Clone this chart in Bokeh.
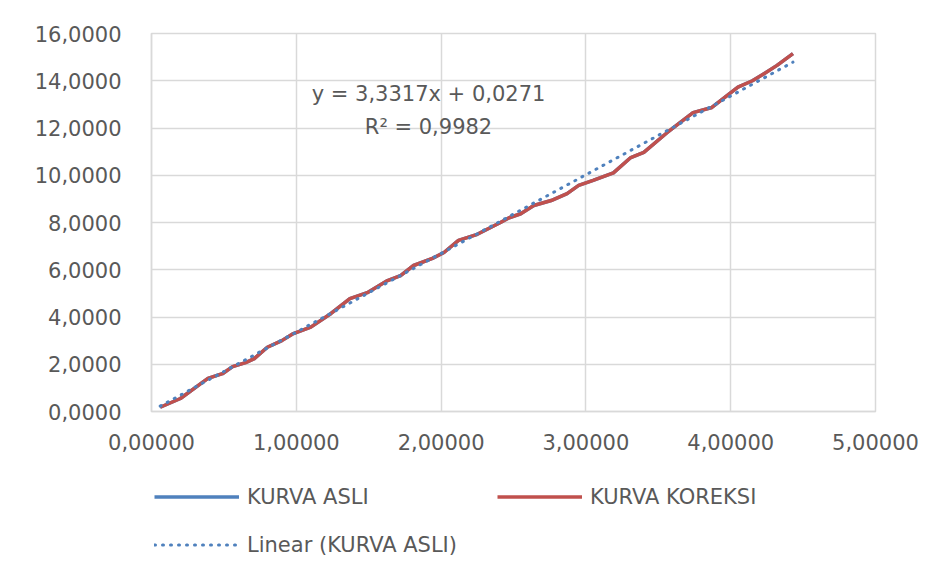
from bokeh.plotting import figure
from bokeh.models import Legend, LegendItem, Label, FixedTicker, Range1d
from bokeh.layouts import column
from bokeh.embed import file_html
from bokeh.resources import INLINE

# ---- data ----
x_vals = [0.06, 0.20, 0.34, 0.39, 0.49, 0.56, 0.65, 0.71, 0.80, 0.90, 0.98, 1.10,
          1.24, 1.37, 1.49, 1.63, 1.72, 1.81, 1.94, 2.02, 2.12, 2.25, 2.41, 2.47,
          2.55, 2.64, 2.76, 2.87, 2.95, 3.05, 3.19, 3.31, 3.40, 3.56, 3.65, 3.74,
          3.87, 3.93, 4.05, 4.15, 4.23, 4.32, 4.43]
kurva_asli = [0.18, 0.55, 1.18, 1.40, 1.60, 1.90, 2.07, 2.24, 2.72, 3.00, 3.30, 3.57,
              4.15, 4.78, 5.03, 5.54, 5.75, 6.18, 6.48, 6.73, 7.24, 7.50, 8.00, 8.20,
              8.37, 8.72, 8.93, 9.22, 9.57, 9.78, 10.10, 10.75, 10.97, 11.80, 12.23, 12.65,
              12.87, 13.16, 13.73, 14.00, 14.30, 14.65, 15.15]
kurva_koreksi = [0.18, 0.55, 1.18, 1.40, 1.60, 1.90, 2.07, 2.24, 2.72, 3.00, 3.30, 3.57,
                 4.15, 4.78, 5.03, 5.54, 5.75, 6.18, 6.48, 6.73, 7.24, 7.50, 8.00, 8.20,
                 8.37, 8.72, 8.93, 9.22, 9.57, 9.78, 10.10, 10.75, 10.97, 11.80, 12.23, 12.65,
                 12.87, 13.16, 13.73, 14.00, 14.30, 14.65, 15.15]
trend_slope = 3.3317
trend_intercept = 0.0271
trend_x = [x_vals[0], x_vals[-1]]
trend_y = [trend_slope * v + trend_intercept for v in trend_x]

x_ticks = [0, 1, 2, 3, 4, 5]
x_tick_labels = ["0,00000", "1,00000", "2,00000", "3,00000", "4,00000", "5,00000"]
y_ticks = [0, 2, 4, 6, 8, 10, 12, 14, 16]
y_tick_labels = ["0,0000", "2,0000", "4,0000", "6,0000", "8,0000",
                 "10,0000", "12,0000", "14,0000", "16,0000"]
eq_text = "y = 3,3317x + 0,0271"
r2_text = "R² = 0,9982"
series_names = ["KURVA ASLI", "KURVA KOREKSI", "Linear (KURVA ASLI)"]

FONT = "DejaVu Sans"
TXT = "#595959"
GRID = "#d9d9d9"
BLUE = "#4f81bd"
RED = "#c0504d"

W = 929
H_MAIN = 455
H_LEG = 102

p = figure(width=W, height=H_MAIN, output_backend="svg", toolbar_location=None,
           x_range=Range1d(0, 5), y_range=Range1d(0, 16),
           min_border_left=151, min_border_top=33, min_border_right=54,
           min_border_bottom=44)
p.background_fill_color = "white"
p.border_fill_color = "white"
p.outline_line_color = GRID
p.outline_line_width = 1.5

for ax, ticks, labels in ((p.xaxis[0], x_ticks, x_tick_labels), (p.yaxis[0], y_ticks, y_tick_labels)):
    ax.ticker = FixedTicker(ticks=ticks)
    ax.major_label_overrides = {t: l for t, l in zip(ticks, labels)}
    ax.major_label_text_font = FONT
    ax.major_label_text_font_size = "21px"
    ax.major_label_text_color = TXT
    ax.axis_line_color = GRID
    ax.axis_line_width = 1.5
    ax.major_tick_line_color = None
    ax.minor_tick_line_color = None
p.xaxis.major_label_standoff = 16
p.yaxis.major_label_standoff = 24

p.xgrid.ticker = FixedTicker(ticks=x_ticks)
p.ygrid.ticker = FixedTicker(ticks=y_ticks)
p.grid.grid_line_color = GRID
p.grid.grid_line_width = 1.5

line_styles = [dict(line_color=BLUE, line_width=3.5, line_join="round"),
               dict(line_color=RED, line_width=3.5, line_join="round"),
               dict(line_color=BLUE, line_width=3, line_dash="1 7", line_cap="round")]

p.line(x_vals, kurva_asli, **line_styles[0])
p.line(x_vals, kurva_koreksi, **line_styles[1])
p.line(trend_x, trend_y, **line_styles[2])

p.add_layout(Label(x=1.913, y=13.42, text=eq_text, text_align="center", text_baseline="middle",
                   text_font=FONT, text_font_size="21px", text_color=TXT))
p.add_layout(Label(x=1.913, y=12.06, text=r2_text, text_align="center", text_baseline="middle",
                   text_font=FONT, text_font_size="21px", text_color=TXT))

# ---- legend strip below the chart (its frame is aligned with the chart's frame) ----
lf = figure(width=W, height=H_LEG, output_backend="svg", toolbar_location=None,
            x_range=Range1d(0, 1), y_range=Range1d(0, 1),
            min_border_left=0, min_border_right=0, min_border_top=0, min_border_bottom=0)
lf.axis.visible = False
lf.grid.visible = False
lf.outline_line_color = None
lf.background_fill_color = "white"
lf.border_fill_color = "white"

nan = float("nan")
leg_r = [lf.line([nan], [nan], **st) for st in line_styles]


def mk_legend(items, loc):
    return Legend(items=items, location=loc, orientation="vertical",
                  padding=0, margin=0, spacing=23, label_standoff=8,
                  glyph_width=85, glyph_height=25, label_height=25,
                  label_text_font=FONT, label_text_font_size="21px",
                  label_text_color=TXT, border_line_color=None,
                  background_fill_alpha=0)


leg_a = mk_legend([LegendItem(label=series_names[0], renderers=[leg_r[0]]),
                   LegendItem(label=series_names[2], renderers=[leg_r[2]])], (3, 0))
leg_b = mk_legend([LegendItem(label=series_names[1], renderers=[leg_r[1]])], (346, 48))
lf.add_layout(leg_a, "center")
lf.add_layout(leg_b, "center")

open("out.html", "w").write(file_html(column(p, lf, spacing=0), INLINE))
